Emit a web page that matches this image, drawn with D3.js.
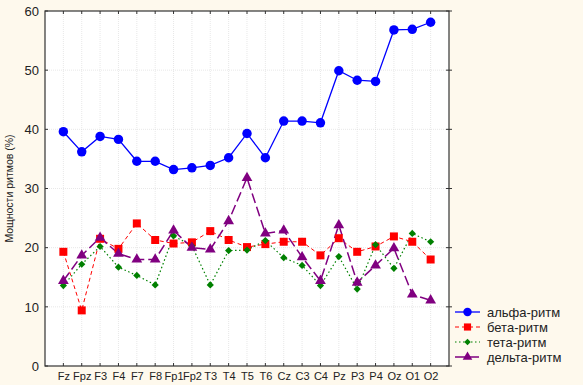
<!DOCTYPE html>
<html>
<head>
<meta charset="utf-8">
<script src="https://cdn.jsdelivr.net/npm/d3@7"></script>
<style>
  body { margin: 0; background: #fef9ed; }
  svg { display: block; font-family: "Liberation Sans", Arial, sans-serif; }
</style>
</head>
<body>
<div id="chart"></div>
<script>
// categories (electrodes)
var leads = ["Fz", "Fpz", "F3", "F4", "F7", "F8", "Fp1", "Fp2", "T3", "T4", "T5", "T6",
             "Cz", "C3", "C4", "Pz", "P3", "P4", "Oz", "O1", "O2"];

// series values
var alpha = [39.6, 36.2, 38.8, 38.3, 34.6, 34.6, 33.2, 33.5, 33.9, 35.2, 39.3, 35.2,
             41.4, 41.4, 41.1, 49.9, 48.3, 48.1, 56.8, 56.9, 58.1];
var beta  = [19.3, 9.4, 21.5, 19.8, 24.1, 21.3, 20.7, 20.9, 22.8, 21.3, 20.1, 20.6,
             21.0, 21.0, 18.7, 21.6, 19.3, 20.2, 21.9, 21.0, 18.0];
var theta = [13.6, 17.2, 20.2, 16.7, 15.3, 13.7, 22.0, 20.3, 13.7, 19.5, 19.6, 21.2,
             18.3, 17.0, 13.6, 18.5, 13.0, 20.5, 16.5, 22.4, 21.0];
var delta = [14.4, 18.7, 21.7, 19.0, 18.0, 18.0, 22.9, 20.0, 19.7, 24.5, 31.8, 22.4,
             22.9, 18.4, 14.4, 23.8, 14.1, 17.0, 19.9, 12.1, 11.1];

var yTicks = [0, 10, 20, 30, 40, 50, 60];

// rot: rotate the symbol (square turned into a diamond)
var series = [
    { name: "альфа-ритм", values: alpha, color: "#0000ff", dash: null, width: 1.3, symbol: d3.symbolCircle, size: 70, rot: 0 },
    { name: "бета-ритм", values: beta, color: "#ff0000", dash: "4,3", width: 1, symbol: d3.symbolSquare, size: 64, rot: 0 },
    { name: "тета-ритм", values: theta, color: "#008000", dash: "1.5,2.5", width: 1.2, symbol: d3.symbolSquare, size: 26, rot: 45 },
    { name: "дельта-ритм", values: delta, color: "#800080", dash: "10,4", width: 1.5, symbol: d3.symbolTriangle, size: 50, rot: 0 }
];

var W = 583, H = 385;
var pLeft = 45, pRight = 449, pTop = 11, pBottom = 366;

var svg = d3.select("#chart").append("svg").attr("width", W).attr("height", H);

svg.append("rect").attr("x", 0).attr("y", 0).attr("width", W).attr("height", H).attr("fill", "#fef9ed");
svg.append("rect").attr("x", pLeft).attr("y", pTop).attr("width", pRight - pLeft).attr("height", pBottom - pTop)
    .attr("fill", "#ffffff");

var x = d3.scalePoint().domain(leads).range([pLeft, pRight]).padding(1);
var y = d3.scaleLinear().domain([0, 60]).range([pBottom, pTop]);

// grid
svg.append("g").selectAll("line").data(leads).enter().append("line")
    .attr("x1", function (d) { return x(d); }).attr("x2", function (d) { return x(d); })
    .attr("y1", pTop).attr("y2", pBottom)
    .attr("stroke", "#d8d8d8").attr("stroke-width", 0.6).attr("stroke-dasharray", "1,1");
svg.append("g").selectAll("line").data(yTicks.slice(1, -1)).enter().append("line")
    .attr("x1", pLeft).attr("x2", pRight)
    .attr("y1", function (d) { return y(d); }).attr("y2", function (d) { return y(d); })
    .attr("stroke", "#d8d8d8").attr("stroke-width", 0.6).attr("stroke-dasharray", "1,1");

// axes
svg.append("g").attr("transform", "translate(" + pLeft + ",0)")
    .call(d3.axisLeft(y).tickValues(yTicks).tickSize(0).tickPadding(6))
    .call(function (g) { g.select(".domain").remove(); })
    .selectAll("text").style("font-size", "13px").attr("fill", "#222");
svg.append("g").attr("transform", "translate(0," + pBottom + ")")
    .call(d3.axisBottom(x).tickSize(0).tickPadding(6))
    .call(function (g) { g.select(".domain").remove(); })
    .selectAll("text").style("font-size", "11px").attr("fill", "#222");

// tick marks on the frame
var tk = svg.append("g").attr("stroke", "#333").attr("stroke-width", 1);
leads.forEach(function (d) {
    tk.append("line").attr("x1", x(d)).attr("x2", x(d)).attr("y1", pBottom).attr("y2", pBottom - 3);
    tk.append("line").attr("x1", x(d)).attr("x2", x(d)).attr("y1", pTop).attr("y2", pTop + 3);
});
yTicks.forEach(function (d) {
    tk.append("line").attr("x1", pLeft).attr("x2", pLeft + 3).attr("y1", y(d)).attr("y2", y(d));
    tk.append("line").attr("x1", pRight - 3).attr("x2", pRight + 3).attr("y1", y(d)).attr("y2", y(d));
});

// frame
svg.append("rect").attr("x", pLeft).attr("y", pTop).attr("width", pRight - pLeft).attr("height", pBottom - pTop)
    .attr("fill", "none").attr("stroke", "#333").attr("stroke-width", 1.2);

// y label
svg.append("text").attr("transform", "translate(13," + ((pTop + pBottom) / 2) + ") rotate(-90)")
    .attr("text-anchor", "middle").style("font-size", "10.5px").attr("fill", "#222")
    .text("Мощности ритмов (%)");

// lines and markers
var line = d3.line().x(function (d, i) { return x(leads[i]); }).y(function (d) { return y(d); });
series.forEach(function (s) {
    svg.append("path").datum(s.values).attr("d", line)
        .attr("fill", "none").attr("stroke", s.color).attr("stroke-width", s.width)
        .attr("stroke-dasharray", s.dash);
});
series.forEach(function (s) {
    svg.append("g").selectAll("path").data(s.values).enter().append("path")
        .attr("d", d3.symbol().type(s.symbol).size(s.size))
        .attr("transform", function (d, i) {
            return "translate(" + x(leads[i]) + "," + y(d) + ") rotate(" + s.rot + ")";
        })
        .attr("fill", s.color);
});

// legend
var lg = svg.append("g");
series.forEach(function (s, i) {
    var ly = 312 + i * 15;
    lg.append("line").attr("x1", 455).attr("x2", 480).attr("y1", ly).attr("y2", ly)
        .attr("stroke", s.color).attr("stroke-width", s.width).attr("stroke-dasharray", s.dash);
    lg.append("path").attr("d", d3.symbol().type(s.symbol).size(s.size * 0.8))
        .attr("transform", "translate(467.5," + ly + ") rotate(" + s.rot + ")").attr("fill", s.color);
    lg.append("text").attr("x", 487).attr("y", ly + 4.5).style("font-size", "13px").attr("fill", "#222")
        .text(s.name);
});
</script>
</body>
</html>
